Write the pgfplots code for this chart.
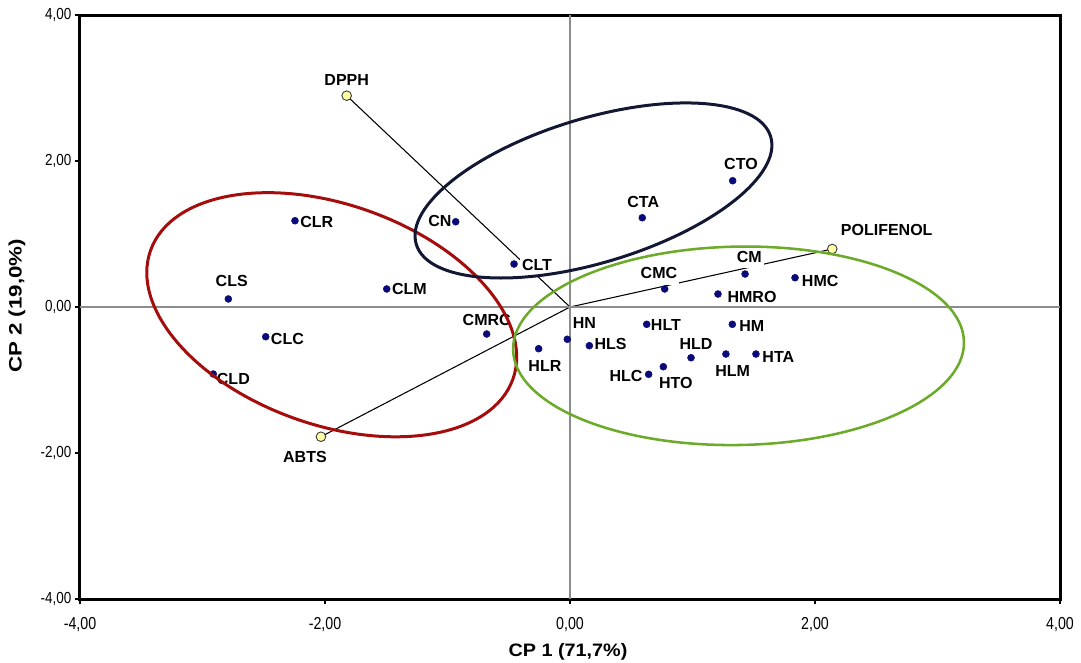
\documentclass[border=0pt]{standalone}
\usepackage{fontspec}
\setmainfont{Liberation Sans}
\usepackage{pgfplots}
\pgfplotsset{compat=1.18}
\definecolor{ptblue}{RGB}{10,10,120}
\definecolor{ldyel}{RGB}{255,255,165}
\definecolor{ellred}{RGB}{165,12,12}
\definecolor{ellnavy}{RGB}{18,24,52}
\definecolor{ellgreen}{RGB}{108,170,42}
\definecolor{zerogray}{RGB}{140,140,140}
\tikzset{lbl/.style={fill=white, inner xsep=1.5pt, inner ysep=0.5pt, text depth=4pt, font=\bfseries\fontsize{12}{14}\selectfont}}
\begin{document}
\begin{tikzpicture}
\begin{axis}[
  at={(0,0)}, anchor=south west,
  scale only axis, width=735pt, height=438pt,
  xmin=-4, xmax=4, ymin=-4, ymax=4,
  axis line style={line width=2.25pt, black},
  xtick={-4,-2,0,2,4}, ytick={-4,-2,0,2,4},
  xticklabels={{-4,00},{-2,00},{0,00},{2,00},{4,00}},
  yticklabels={{-4,00},{-2,00},{0,00},{2,00},{4,00}},
  xtick pos=left, ytick pos=left,
  tick align=outside, major tick length=4pt,
  tick style={black, line width=0.8pt},
  xticklabel style={font=\fontsize{13}{15}\selectfont, xscale=0.82, yshift=-6pt},
  yticklabel style={font=\fontsize{12}{14}\selectfont, xscale=0.84, xshift=0.5pt},
  clip=false,
]
% loading vectors
\addplot[black, line width=0.8pt] coordinates {(0,0) (-1.823,2.895)};
\addplot[black, line width=0.8pt] coordinates {(0,0) (2.141,0.795)};
\addplot[black, line width=0.8pt] coordinates {(0,0) (-2.033,-1.777)};
% labels
\node[lbl, anchor=base west, xshift=2.25pt, yshift=-4.9pt] at (axis cs:-2.245,1.182) {CLR};
\node[lbl, anchor=base, xshift=2.55pt, yshift=9.4pt] at (axis cs:-2.789,0.110) {CLS};
\node[lbl, anchor=base west, xshift=2.25pt, yshift=-4.1pt] at (axis cs:-1.496,0.247) {CLM};
\node[lbl, anchor=base west, xshift=2.25pt, yshift=-6.1pt] at (axis cs:-2.484,-0.407) {CLC};
\node[lbl, anchor=base west, xshift=1.05pt, yshift=-7.9pt] at (axis cs:-2.912,-0.918) {CLD};
\node[lbl, anchor=base, xshift=0pt, yshift=6.4pt] at (axis cs:-0.680,-0.370) {CMRC};
\node[lbl, anchor=base east, xshift=-1.5pt, yshift=-3.4pt] at (axis cs:-0.933,1.168) {CN};
\node[lbl, anchor=base west, xshift=4.3pt, yshift=-4.9pt] at (axis cs:-0.457,0.589) {CLT};
\node[lbl, anchor=base, xshift=-4.3pt, yshift=7.65pt] at (axis cs:0.773,0.247) {CMC};
\node[lbl, anchor=base, xshift=3.2pt, yshift=8.85pt] at (axis cs:1.429,0.452) {CM};
\node[lbl, anchor=base west, xshift=3.5pt, yshift=-6.6pt] at (axis cs:1.837,0.401) {HMC};
\node[lbl, anchor=base west, xshift=5.5pt, yshift=-6.15pt] at (axis cs:1.208,0.178) {HMRO};
\node[lbl, anchor=base, xshift=12.75pt, yshift=7.9pt] at (axis cs:-0.022,-0.442) {HN};
\node[lbl, anchor=base, xshift=4.7pt, yshift=-17.1pt] at (axis cs:-0.256,-0.571) {HLR};
\node[lbl, anchor=base west, xshift=2.25pt, yshift=-2.85pt] at (axis cs:0.158,-0.530) {HLS};
\node[lbl, anchor=base west, xshift=1.5pt, yshift=-4.65pt] at (axis cs:0.626,-0.237) {HLT};
\node[lbl, anchor=base west, xshift=3.5pt, yshift=-5.4pt] at (axis cs:1.325,-0.237) {HM};
\node[lbl, anchor=base, xshift=3.75pt, yshift=6.15pt] at (axis cs:0.988,-0.695) {HLD};
\node[lbl, anchor=base, xshift=5pt, yshift=-16.65pt] at (axis cs:1.273,-0.644) {HLM};
\node[lbl, anchor=base west, xshift=3.2pt, yshift=-6.15pt] at (axis cs:1.518,-0.644) {HTA};
\node[lbl, anchor=base, xshift=9.3pt, yshift=-16.6pt] at (axis cs:0.762,-0.818) {HTO};
\node[lbl, anchor=base east, xshift=-3pt, yshift=-5.2pt] at (axis cs:0.642,-0.922) {HLC};
\node[lbl, anchor=base, xshift=0.75pt, yshift=7.9pt] at (axis cs:0.590,1.223) {CTA};
\node[lbl, anchor=base, xshift=6.2pt, yshift=8.2pt] at (axis cs:1.328,1.730) {CTO};
\node[lbl, anchor=base, xshift=0pt, yshift=7.65pt] at (axis cs:-1.823,2.895) {DPPH};
\node[lbl, anchor=base west, xshift=4.8pt, yshift=10.1pt] at (axis cs:2.141,0.795) {POLIFENOL};
\node[lbl, anchor=base, xshift=-12pt, yshift=-19.6pt] at (axis cs:-2.033,-1.777) {ABTS};
% zero lines
\draw[zerogray, line width=1.1pt] (axis cs:-4,0) -- (axis cs:4,0);
\draw[zerogray, line width=1.1pt] (axis cs:0,-4) -- (axis cs:0,4);
% scores
\addplot[only marks, mark=*, mark size=2.6pt, mark options={fill=ptblue, draw=ptblue}] coordinates {
(-2.245,1.182) (-2.789,0.110) (-1.496,0.247) (-2.484,-0.407) (-2.912,-0.918)
(-0.680,-0.370) (-0.933,1.168) (-0.457,0.589) (0.773,0.247) (1.429,0.452)
(1.837,0.401) (1.208,0.178) (-0.022,-0.442) (-0.256,-0.571) (0.158,-0.530)
(0.626,-0.237) (1.325,-0.237) (0.988,-0.695) (1.273,-0.644) (1.518,-0.644)
(0.762,-0.818) (0.642,-0.922) (0.590,1.223) (1.328,1.730)
};
% loadings
\addplot[only marks, mark=*, mark size=3.6pt, mark options={fill=ldyel, draw=black!75, line width=0.7pt}] coordinates {
(-1.823,2.895) (2.141,0.795) (-2.033,-1.777)
};
\end{axis}
% group ellipses
\draw[ellred, line width=2.25pt, rotate around={-19.5:(188.8pt,213.2pt)}] (188.8pt,213.2pt) ellipse [x radius=144.2pt, y radius=82.6pt];
\draw[ellnavy, line width=2.25pt, rotate around={16.9:(385.1pt,306.4pt)}] (385.1pt,306.4pt) ellipse [x radius=138.9pt, y radius=54.1pt];
\draw[ellgreen, line width=1.9pt, rotate around={1:(493.9pt,189.9pt)}] (493.9pt,189.9pt) ellipse [x radius=169.1pt, y radius=74.4pt];
% axis titles
\node[font=\bfseries\fontsize{13.5}{15}\selectfont, xscale=1.1] at (366pt,-39.75pt) {CP 1 (71,7\%)};
\node[font=\bfseries\fontsize{13.5}{15}\selectfont, rotate=90, xscale=1.24] at (-47.25pt,219.75pt) {CP 2 (19,0\%)};
\pgfresetboundingbox
\path[use as bounding box] (-60pt,-47.25pt) rectangle (750.75pt,449.25pt);
\end{tikzpicture}
\end{document}
